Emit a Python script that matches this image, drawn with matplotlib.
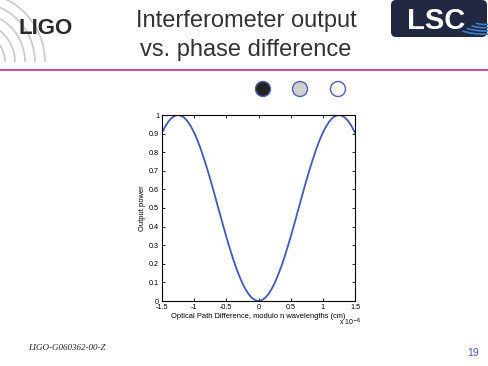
#import neccesary libraries
import numpy as np
import matplotlib
matplotlib.use("Agg")
import matplotlib.pyplot as plt
from matplotlib.patches import Circle, FancyBboxPatch, Arc

plt.rcParams['font.family'] = ['Liberation Sans', 'DejaVu Sans']

#optical path difference in units of 1e-6 (sample positions)
opd = np.linspace(-1.5, 1.5, 61)
#output power, right half (0 to 1.5)
half_power = [0, 0.004, 0.016, 0.035, 0.062, 0.095, 0.136, 0.181, 0.232, 0.287,
              0.345, 0.406, 0.469, 0.531, 0.594, 0.655, 0.713, 0.768, 0.819, 0.865,
              0.905, 0.938, 0.965, 0.984, 0.996, 1.0, 0.996, 0.984, 0.965, 0.938, 0.905]
power = half_power[::-1] + half_power[1:]

x_ticks = [-1.5, -1, -0.5, 0, 0.5, 1, 1.5]
x_labels = ["-1.5", "-1", "-0.5", "0", "0.5", "1", "1.5"]
y_ticks = [0, 0.1, 0.2, 0.3, 0.4, 0.5, 0.6, 0.7, 0.8, 0.9, 1]
y_labels = ["0", "0.1", "0.2", "0.3", "0.4", "0.5", "0.6", "0.7", "0.8", "0.9", "1"]

title_lines = ["Interferometer output", "vs. phase difference"]
doc_id = "LIGO-G060362-00-Z"
page_num = "19"

fig = plt.figure(figsize=(4.88, 3.66), dpi=100)

#background axes in pixel coords for the slide decorations
bg = fig.add_axes([0, 0, 1, 1])
bg.set_xlim(0, 488)
bg.set_ylim(366, 0)
bg.axis("off")

#LIGO logo: grey arcs + bold text
for r in [30, 40, 50, 60, 70]:
    bg.add_patch(Arc((-25, 62), 2 * r, 2 * r, theta1=270, theta2=360,
                     color="#cccccc", lw=1.3))
bg.text(19, 28, "LIGO", fontsize=16, fontweight="bold", color="#2a2a2a",
        va="center", ha="left")

#LSC logo: navy box, white text, blue arcs
bg.add_patch(FancyBboxPatch((391, 0), 96, 37, boxstyle="round,pad=0,rounding_size=5",
                            fc="#222842", ec="none"))
for r in [10, 15, 20, 25]:
    bg.add_patch(Arc((485, 18), 3.0 * r, 1.3 * r, theta1=30, theta2=150,
                     color="#3b7fd0", lw=1.2))
bg.text(436, 29, "LSC", fontsize=21, fontweight="bold", color="white",
        va="baseline", ha="center")

#title
bg.text(246, 21, title_lines[0], fontsize=17, color="#333333", ha="center", va="center")
bg.text(246, 50, title_lines[1], fontsize=17, color="#333333", ha="center", va="center")

#underline
bg.plot([0, 488], [68.5, 68.5], color="#7a5aa8", lw=0.8)
bg.plot([0, 488], [70, 70], color="#d04894", lw=1.3)

#three circles
bg.add_patch(Circle((263, 89), 7.5, fc="#222222", ec="#5060b8", lw=1.0))
bg.add_patch(Circle((300, 89), 7.5, fc="#cfcfcf", ec="#5060b8", lw=1.0))
bg.add_patch(Circle((338, 89), 7.5, fc="white", ec="#5060b8", lw=1.0))

#footer
bg.text(28, 348, doc_id, fontsize=6.5, style="italic", family="Liberation Serif",
        color="#222222", ha="left", va="center")
bg.text(479, 353, page_num, fontsize=7.5, color="#4a5aa8", ha="right", va="center")

#main plot
ax = fig.add_axes([162 / 488, 1 - 301 / 366, 193 / 488, 186 / 366])
ax.plot(opd, power, color="#4458b4", lw=1.3)
ax.set_xlim(-1.5, 1.5)
ax.set_ylim(0, 1)
ax.set_xticks(x_ticks)
ax.set_xticklabels(x_labels)
ax.set_yticks(y_ticks)
ax.set_yticklabels(y_labels)
ax.tick_params(direction="in", length=2.5, width=0.6, labelsize=5.2,
               top=True, right=True)
ax.tick_params(axis="x", pad=2.5)
ax.tick_params(axis="y", pad=2.0)
for s in ax.spines.values():
    s.set_linewidth(0.8)
ax.set_xlabel("Optical Path Difference, modulo n wavelengths (cm)", fontsize=5.4,
              labelpad=1.0)
ax.set_ylabel("Output power", fontsize=5.4, labelpad=2)
ax.text(1.03, -0.115, r"x 10$^{-6}$", transform=ax.transAxes, fontsize=5.0,
        ha="right", va="center")

plt.savefig("out.png", dpi=100)
